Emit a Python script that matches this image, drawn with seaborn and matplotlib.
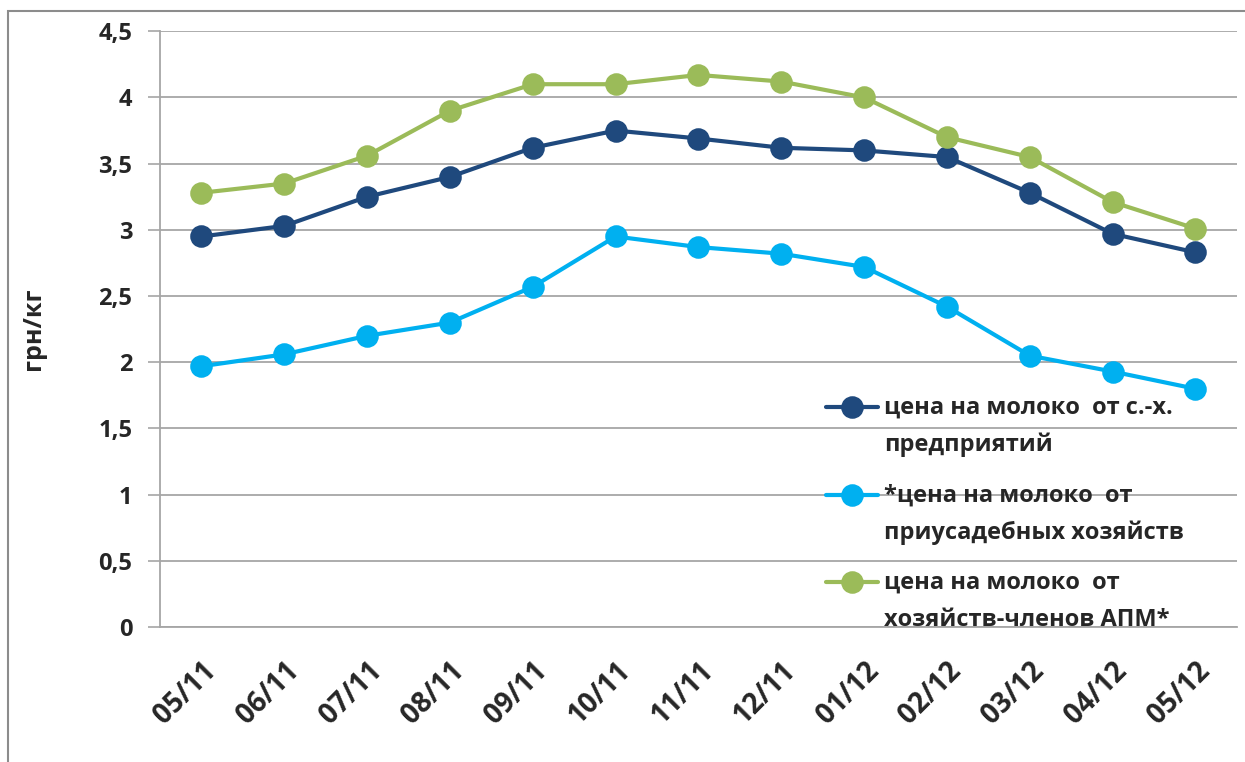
import numpy as np
import pandas as pd
import seaborn as sns
import matplotlib.pyplot as plt
from matplotlib.patches import Rectangle
from matplotlib.legend_handler import HandlerLine2D
from matplotlib.transforms import ScaledTranslation

# data
months = ['05/11', '06/11', '07/11', '08/11', '09/11', '10/11', '11/11',
          '12/11', '01/12', '02/12', '03/12', '04/12', '05/12']
agro = [2.95, 3.03, 3.25, 3.40, 3.62, 3.75, 3.69, 3.62, 3.60, 3.55, 3.28, 2.97, 2.83]
household = [1.97, 2.06, 2.20, 2.30, 2.57, 2.95, 2.87, 2.82, 2.72, 2.42, 2.05, 1.93, 1.80]
apm = [3.28, 3.35, 3.56, 3.90, 4.10, 4.10, 4.17, 4.12, 4.00, 3.70, 3.55, 3.21, 3.01]

labels = ['цена на молоко  от с.-х.\nпредприятий',
          '*цена на молоко  от\nприусадебных хозяйств',
          'цена на молоко  от\nхозяйств-членов АПМ*']
colors = ['#1f497d', '#00b0f0', '#9bbb59']

df = pd.DataFrame({
    'month': months * 3,
    'price': agro + household + apm,
    'series': [labels[0]] * 13 + [labels[1]] * 13 + [labels[2]] * 13,
})

LEG_FS = 17
LEG_LS = 1.7


# legend marker next to the first line of a two-line label, like Excel
class TopLineHandler(HandlerLine2D):
    def create_artists(self, legend, orig_handle, xdescent, ydescent,
                       width, height, fontsize, trans):
        arts = super().create_artists(legend, orig_handle, xdescent, ydescent,
                                      width, height, fontsize, trans)
        dy = LEG_LS * fontsize / 2
        for a in arts:
            a.set_ydata(np.asarray(a.get_ydata()) + dy)
        return arts


sns.set_style('white')
plt.rcParams['font.family'] = ['Open Sans', 'DejaVu Sans']
plt.rcParams['font.weight'] = 'bold'

fig = plt.figure(figsize=(12.45, 7.62), dpi=100)
ax = fig.add_axes([0.1285, 0.177, 0.865, 0.782])

sns.pointplot(data=df, x='month', y='price', hue='series', order=months,
              hue_order=labels, palette=colors, markers='o',
              linewidth=3, markersize=14, errorbar=None, ax=ax, zorder=3)

ax.set_ylim(0, 4.5)
ax.set_xlim(-0.5, len(months) - 0.5)
yt = np.arange(0, 4.51, 0.5)
ax.set_yticks(yt)
ax.set_yticklabels([f'{v:g}'.replace('.', ',') for v in yt], fontsize=17, fontweight='bold')
ax.set_xticks(range(len(months)))
ax.set_xticklabels(months, rotation=45, ha='right', rotation_mode='anchor',
                   fontsize=20, fontweight='bold')
shift = ScaledTranslation(-4 / 100, 0, fig.dpi_scale_trans)
for lbl in ax.get_xticklabels():
    lbl.set_transform(lbl.get_transform() + shift)
ax.tick_params(axis='y', length=9, width=1.2, color='#a6a6a6', pad=11, direction='out', left=True)
ax.tick_params(axis='x', length=0, pad=21)

ax.grid(axis='y', color='#a6a6a6', linewidth=1.3)
ax.set_axisbelow(True)
for s in ['top', 'right']:
    ax.spines[s].set_visible(False)
ax.spines['left'].set_color('#a6a6a6')
ax.spines['left'].set_linewidth(1.3)
ax.spines['bottom'].set_color('#a6a6a6')
ax.spines['bottom'].set_linewidth(1.3)

ax.set_xlabel('')
ax.set_ylabel('грн/кг', fontsize=18, fontweight='bold')
ax.yaxis.set_label_coords(-0.106, 0.5)

handles, _ = ax.get_legend_handles_labels()
leg = ax.legend(handles, labels, loc='upper left', bbox_to_anchor=(0.61, 0.405),
                frameon=False, fontsize=LEG_FS, handlelength=2.2, handletextpad=0.25,
                labelspacing=1.12, borderaxespad=0,
                handler_map={h: TopLineHandler() for h in handles})
for t in leg.get_texts():
    t.set_fontweight('bold')
    t.set_linespacing(LEG_LS)

# outer chart border
fig.patches.append(Rectangle((0.0064, -0.05), 1.1, 1.0356, transform=fig.transFigure,
                             fill=False, edgecolor='#8c8c8c', linewidth=1.5))

fig.savefig('out.png', dpi=100)
